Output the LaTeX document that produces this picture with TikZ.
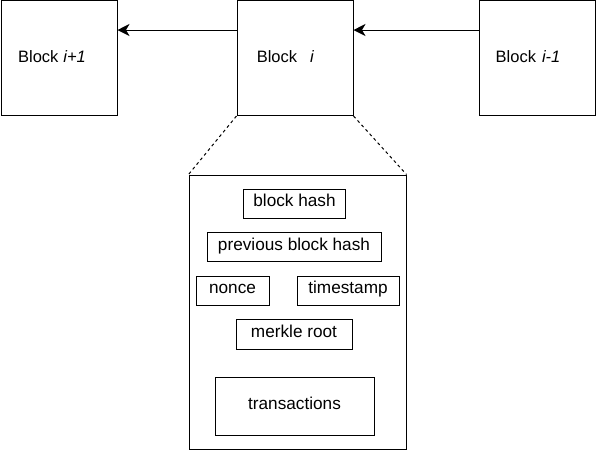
\documentclass[tikz,border=0pt]{standalone}
\usepackage{fontspec}
\setmainfont{Liberation Sans}
\usepackage{tikz}
\usetikzlibrary{arrows.meta, positioning}

\begin{document}
\begin{tikzpicture} [x=1pt, y=-1pt, line width=1pt, font=\fontsize{16.5}{19}\selectfont,
  chain/.style={draw, rectangle, inner sep=0pt, minimum width=116pt, minimum height=115pt, text height=12pt, text depth=4pt},
  field/.style={draw, rectangle, inner sep=0pt, minimum height=29pt, text height=12.5pt, text depth=6pt, font=\fontsize{17.2}{20}\selectfont},
  link/.style={-{Stealth[length=12pt, width=12pt, inset=3.5pt]}}]
\useasboundingbox (0,0) rectangle (596,451);
\node[chain](bnext) at (59,58){Block\kern5pt\textit{i+1}\kern14pt\mbox{}};
\node[chain](bcur) at (295,58){Block\kern13pt\textit{i}\kern19pt\mbox{}};
\node[chain](bprev) at (537.5,58){Block\kern6pt\textit{i-1}\kern19pt\mbox{}};
\node[draw, rectangle, inner sep=0pt, minimum width=217pt, minimum height=274pt](detail) at (297.5,312){};
\node[field, minimum width=102pt](hash) at (294.5,203.5){block hash};
\node[field, minimum width=174pt](prevhash) at (294,247){previous block hash};
\node[field, minimum width=73pt](nonce) at (232.5,290.5){nonce};
\node[field, minimum width=102pt](stamp) at (348,290.5){timestamp};
\node[field, minimum width=116pt, minimum height=30pt](merkle) at (294,334){merkle root};
\node[field, minimum width=159pt, minimum height=58pt](tx) at (294.5,406){transactions};
\draw [link]([yshift=28pt]bcur.west) -- ([yshift=28pt]bnext.east);
\draw [link]([yshift=28pt]bprev.west) -- ([yshift=28pt]bcur.east);
\draw [dash pattern=on 3pt off 3pt](bcur.south west) -- (detail.north west);
\draw [dash pattern=on 3pt off 3pt](bcur.south east) -- (detail.north east);
\end{tikzpicture}
\end{document}
